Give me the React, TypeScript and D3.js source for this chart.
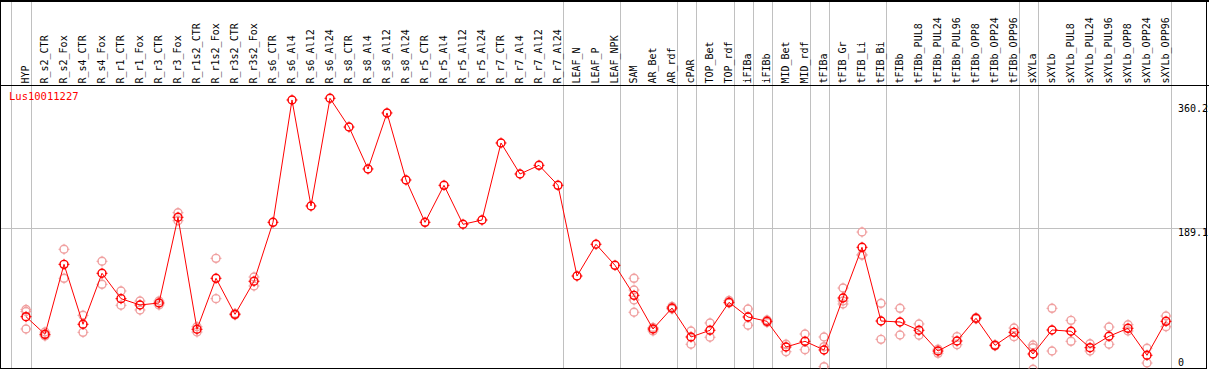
import React from "react";
import * as d3 from "d3";

const geneName = "Lus10011227";

const categories = [
  "HYP", "R_s2_CTR", "R_s2_Fox", "R_s4_CTR", "R_s4_Fox", "R_r1_CTR", "R_r1_Fox", "R_r3_CTR", "R_r3_Fox",
  "R_r1s2_CTR", "R_r1s2_Fox", "R_r3s2_CTR", "R_r3s2_Fox", "R_s6_CTR", "R_s6_Al4", "R_s6_Al12", "R_s6_Al24",
  "R_s8_CTR", "R_s8_Al4", "R_s8_Al12", "R_s8_Al24", "R_r5_CTR", "R_r5_Al4", "R_r5_Al12", "R_r5_Al24",
  "R_r7_CTR", "R_r7_Al4", "R_r7_Al12", "R_r7_Al24", "LEAF_N", "LEAF_P", "LEAF_NPK", "SAM", "AR_Bet", "AR_rdf",
  "cPAR", "TOP_Bet", "TOP_rdf", "iFIBa", "iFIBb", "MID_Bet", "MID_rdf", "tFIBa", "tFIB_Gr", "tFIB_Li", "tFIB_Bi",
  "tFIBb", "tFIBb_PUL8", "tFIBb_PUL24", "tFIBb_PUL96", "tFIBb_OPP8", "tFIBb_OPP24", "tFIBb_OPP96",
  "sXYLa", "sXYLb", "sXYLb_PUL8", "sXYLb_PUL24", "sXYLb_PUL96", "sXYLb_OPP8", "sXYLb_OPP24", "sXYLb_OPP96",
];

const means = [
  72.8, 49.6, 141.7, 62.8, 129.9, 96.5, 88.2, 90.8, 203.6,
  56.2, 123.3, 75.9, 119.4, 197.0, 358.0, 218.5, 360.2,
  322.4, 267.2, 340.9, 252.7, 197.0, 245.7, 194.4, 200.0,
  301.4, 260.6, 272.0, 245.7, 126.3, 168.1, 140.4, 100.9, 56.6, 84.2,
  46.1, 54.9, 91.7, 72.4, 66.7, 32.9, 40.4, 29.0, 97.4, 164.1, 67.1,
  65.8, 54.9, 27.6, 40.8, 70.7, 35.1, 52.2,
  23.7, 55.3, 53.6, 32.0, 47.0, 57.5, 22.0, 66.7,
];

const replicates: number[][] = [
  [82.3, 79.6, 56.6], [52.6, 48.7, 47.4], [161.5, 123.3], [74.6, 52.2], [145.7, 115.4], [106.6, 87.8], [93.4, 81.6], [93.4, 88.2], [209.6, 199.1],
  [59.6, 52.6], [149.6, 96.5], [77.0, 75.0], [125.0, 113.2], [], [], [], [],
  [], [], [], [], [], [], [], [],
  [], [], [], [], [], [], [], [123.3, 107.9, 94.8, 78.6], [58.6, 54.0], [86.2, 82.9],
  [54.0, 36.5], [64.5, 45.7], [94.1, 90.8], [82.9, 61.5], [68.4, 65.1], [36.5, 26.7], [50.0, 29.3], [46.1, 33.3, 7.0], [110.5, 93.4, 89.5], [184.2, 154.2, 153.9], [90.4, 43.0],
  [83.8, 48.7], [63.2, 48.3], [29.9, 24.6], [46.5, 35.9], [71.5, 69.9], [35.8, 34.4], [57.9, 46.5],
  [35.5, 32.0, 3.6], [83.8, 27.6], [68.0, 40.4], [37.2, 27.6], [59.2, 36.5], [62.2, 54.0], [31.2, 11.8], [73.7, 59.6],
];

const groupEnds = [0, 28, 31, 34, 35, 37, 38, 39, 41, 42, 45, 52, 53, 60];
const yTickValues = [0, 189.1, 360.2];
const gridValues = [189.1];

const W = 1209;
const H = 370;
const FONT = "'DejaVu Sans Mono', monospace";

function Marker({ x, y, color }: { x: number; y: number; color: string }) {
  const r = 4;
  return (
    <g>
      <circle cx={x} cy={y} r={r} fill="none" stroke={color} strokeWidth={1.4} />
      <line x1={x} x2={x} y1={y - r - 1.5} y2={y - r + 1} stroke={color} strokeWidth={1} />
      <line x1={x} x2={x} y1={y + r - 1} y2={y + r + 1.5} stroke={color} strokeWidth={1} />
      <line x1={x - r - 1.5} x2={x - r + 1} y1={y} y2={y} stroke={color} strokeWidth={1} />
      <line x1={x + r - 1} x2={x + r + 1.5} y1={y} y2={y} stroke={color} strokeWidth={1} />
    </g>
  );
}

export default function App() {
  const x = d3.scalePoint<string>().domain(categories).range([26, 1166]);
  const y = d3.scaleLinear().domain([0, 360.2]).range([372, 98.3]);

  const line = d3
    .line<number>()
    .x((_, i) => x(categories[i]) as number)
    .y((d) => y(d));

  const sepXs = [(x(categories[0]) as number) - 15, ...groupEnds.map((i) => (x(categories[i]) as number) + 4.5)];
  const labelYOffsets: Record<string, number> = { "0": -6, "189.1": 8, "360.2": 14 };

  return (
    <svg
      width={W}
      height={H}
      style={{ position: "absolute", left: 0, top: 0, background: "#fff" }}
      fontFamily={FONT}
    >
      <defs>
        <clipPath id="plotClip">
          <rect x={1} y={86} width={1205} height={282.5} />
        </clipPath>
      </defs>
      <rect x={0} y={0} width={W} height={H} fill="#fff" />
      {sepXs.map((sx, i) => (
        <line key={"v" + i} x1={Math.round(sx) + 0.5} x2={Math.round(sx) + 0.5} y1={0} y2={369} stroke="#c0c0c0" strokeWidth={1} />
      ))}
      {gridValues.map((v) => (
        <line key={"h" + v} x1={0} x2={1207} y1={Math.round(y(v)) + 0.5} y2={Math.round(y(v)) + 0.5} stroke="#c0c0c0" strokeWidth={1} />
      ))}
      <line x1={0} x2={W} y1={1} y2={1} stroke="#000" strokeWidth={2} />
      <line x1={0} x2={W} y1={85.5} y2={85.5} stroke="#000" strokeWidth={1} />
      <line x1={0} x2={1207} y1={368.5} y2={368.5} stroke="#000" strokeWidth={1} />
      <line x1={0.5} x2={0.5} y1={0} y2={369} stroke="#000" strokeWidth={1} />
      <line x1={1206.5} x2={1206.5} y1={0} y2={369} stroke="#000" strokeWidth={1} />
      {categories.map((c) => {
        const cx = (x(c) as number) + 2.6;
        return (
          <text key={c} transform={`translate(${cx},83.5) rotate(-90)`} fontSize={10} fill="#000" textAnchor="start">
            {c}
          </text>
        );
      })}
      {yTickValues.map((v) => (
        <text key={"yl" + v} x={1178} y={y(v) + labelYOffsets[String(v)]} fontSize={10} fill="#000">
          {String(v)}
        </text>
      ))}
      <text x={9} y={100} fontSize={10.5} fill="#ff0000">
        {geneName}
      </text>
      <g clipPath="url(#plotClip)">
        {replicates.map((reps, i) =>
          reps.map((v, j) => <Marker key={`r${i}-${j}`} x={x(categories[i]) as number} y={y(v)} color="#f0a0a0" />)
        )}
        <path d={line(means) || ""} fill="none" stroke="#ff0000" strokeWidth={1} />
        {means.map((v, i) => (
          <Marker key={"m" + i} x={x(categories[i]) as number} y={y(v)} color="#ff0000" />
        ))}
      </g>
    </svg>
  );
}
